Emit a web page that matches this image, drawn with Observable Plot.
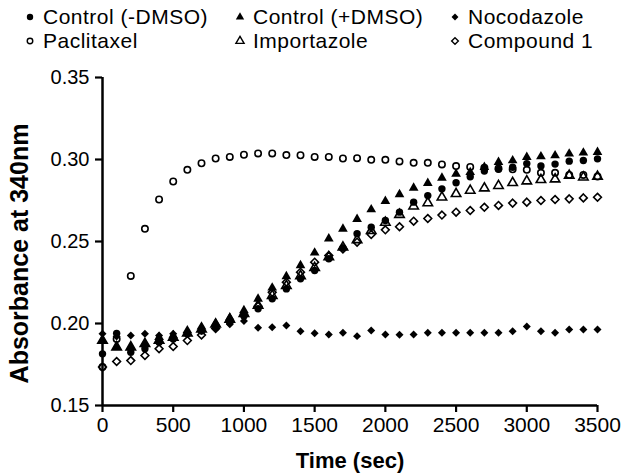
<!DOCTYPE html>
<html>
<head>
<meta charset="utf-8">
<script src="https://cdn.jsdelivr.net/npm/d3@7"></script>
<script src="https://cdn.jsdelivr.net/npm/@observablehq/plot@0.6"></script>
<style>
  html, body { margin: 0; padding: 0; background: #fff; }
  body { width: 627px; height: 474px; overflow: hidden; font-family: "Liberation Sans", Arial, sans-serif; }
  #legend { position: relative; width: 627px; height: 50px; }
  .item { position: absolute; font-size: 21px; letter-spacing: 0.5px; line-height: 20px; height: 20px; white-space: nowrap; color: #000; }
  .sym { position: absolute; }
  svg { display: block; }
</style>
</head>
<body>
<div id="legend"></div>
<div id="chart"></div>
<script>
const time = [0,100,200,300,400,500,600,700,800,900,1000,1100,1200,1300,1400,1500,1600,1700,1800,1900,2000,2100,2200,2300,2400,2500,2600,2700,2800,2900,3000,3100,3200,3300,3400,3500];

const controlMinusDMSO = [0.1815,0.194,0.1825,0.1846,0.1886,0.1905,0.1937,0.1955,0.1975,0.2008,0.2045,0.209,0.2151,0.2211,0.2273,0.2323,0.2395,0.246,0.2547,0.2587,0.2628,0.2679,0.274,0.278,0.2821,0.2858,0.2895,0.293,0.294,0.2953,0.2975,0.296,0.2972,0.299,0.2994,0.3004];
const controlPlusDMSO = [0.1896,0.1856,0.1856,0.1876,0.1917,0.1927,0.1957,0.198,0.2,0.2035,0.208,0.215,0.2218,0.2287,0.2354,0.2431,0.2517,0.2577,0.2636,0.2695,0.2746,0.2787,0.2827,0.2856,0.2888,0.2912,0.2922,0.2953,0.2984,0.2994,0.3014,0.3018,0.3024,0.3035,0.3041,0.3045];
const nocodazole = [0.1937,0.192,0.1927,0.1937,0.1927,0.1937,0.1947,0.1955,0.197,0.1995,0.2015,0.1974,0.1977,0.1988,0.1953,0.1941,0.1933,0.1943,0.1923,0.1957,0.1933,0.1931,0.1933,0.1943,0.1943,0.1943,0.1943,0.1943,0.1943,0.1953,0.1982,0.1953,0.1943,0.1963,0.1963,0.1963];
const paclitaxel = [0.1734,0.1905,0.229,0.2577,0.2756,0.2866,0.2937,0.2977,0.3006,0.3016,0.3029,0.3037,0.3037,0.3027,0.3026,0.3016,0.3016,0.3006,0.3008,0.2998,0.2998,0.2988,0.298,0.298,0.297,0.296,0.2955,0.295,0.2945,0.294,0.2937,0.2919,0.2919,0.2906,0.2906,0.2896];
const importazole = [0.1896,0.1856,0.1856,0.1876,0.1896,0.1915,0.194,0.1965,0.1995,0.2025,0.206,0.211,0.217,0.223,0.229,0.234,0.2405,0.2465,0.251,0.2565,0.2616,0.2664,0.2715,0.2735,0.277,0.2791,0.2811,0.2825,0.284,0.2858,0.2868,0.2876,0.288,0.2902,0.2892,0.2896];
const compound1 = [0.1734,0.1768,0.1774,0.1805,0.1846,0.186,0.1896,0.193,0.197,0.201,0.205,0.2105,0.219,0.2252,0.2313,0.2374,0.2415,0.2455,0.2496,0.2543,0.2571,0.259,0.2624,0.264,0.2661,0.2679,0.2689,0.2709,0.272,0.2734,0.274,0.275,0.2756,0.276,0.2766,0.277];

const seriesNames = ["Control (-DMSO)", "Control (+DMSO)", "Nocodazole", "Paclitaxel", "Importazole", "Compound 1"];
const xTicks = [0,500,1000,1500,2000,2500,3000,3500];
const yTicks = [0.15,0.20,0.25,0.30,0.35];

const series = [
  {name: seriesNames[0], values: controlMinusDMSO, symbol: "circle", filled: true, r: 3.7},
  {name: seriesNames[1], values: controlPlusDMSO, symbol: "triangle", filled: true, r: 3.6},
  {name: seriesNames[2], values: nocodazole, symbol: "diamond2", filled: true, r: 3.6},
  {name: seriesNames[3], values: paclitaxel, symbol: "circle", filled: false, r: 3.2},
  {name: seriesNames[4], values: importazole, symbol: "triangle", filled: false, r: 3.5},
  {name: seriesNames[5], values: compound1, symbol: "diamond2", filled: false, r: 3.5}
];

// Legend (HTML above the SVG)
const legendPos = [
  {x: 30, tx: 43, y: 17}, {x: 240, tx: 253, y: 17}, {x: 455, tx: 468, y: 17},
  {x: 30, tx: 43, y: 41}, {x: 240, tx: 253, y: 41}, {x: 455, tx: 468, y: 41}
];
const d3sym = {circle: d3.symbolCircle, triangle: d3.symbolTriangle, diamond2: d3.symbolDiamond2};
const legend = document.getElementById("legend");
series.forEach((s, i) => {
  const p = legendPos[i];
  const ns = "http://www.w3.org/2000/svg";
  const sv = document.createElementNS(ns, "svg");
  sv.setAttribute("width", 14); sv.setAttribute("height", 14);
  sv.setAttribute("class", "sym");
  sv.style.left = (p.x - 7) + "px"; sv.style.top = (p.y - 7) + "px";
  const path = document.createElementNS(ns, "path");
  path.setAttribute("d", d3.symbol(d3sym[s.symbol], Math.PI * s.r * s.r * 0.75)());
  path.setAttribute("transform", "translate(7,7)");
  if (s.filled) { path.setAttribute("fill", "#000"); }
  else { path.setAttribute("fill", "none"); path.setAttribute("stroke", "#000"); path.setAttribute("stroke-width", 1.4); }
  sv.appendChild(path);
  legend.appendChild(sv);
  const t = document.createElement("div");
  t.className = "item";
  t.textContent = s.name;
  t.style.left = p.tx + "px";
  t.style.top = (p.y - 10) + "px";
  legend.appendChild(t);
});

const marks = [];
series.forEach(s => {
  const rows = time.map((t, i) => ({time: t, value: s.values[i], series: s.name}));
  marks.push(Plot.dot(rows, {
    x: "time", y: "value", symbol: s.symbol, r: s.r,
    fill: s.filled ? "black" : "none",
    stroke: s.filled ? "none" : "black",
    strokeWidth: s.filled ? 0 : 1.6
  }));
});

const chart = Plot.plot({
  width: 627,
  height: 424,
  marginLeft: 102,
  marginRight: 30,
  marginTop: 27,
  marginBottom: 69,
  style: {fontFamily: "'Liberation Sans', Arial, sans-serif", background: "white", color: "black", overflow: "visible"},
  x: {domain: [0, 3500]},
  y: {domain: [0.15, 0.35]},
  marks: [
    Plot.axisX({ticks: xTicks, tickSize: 7, strokeWidth: 2.2, tickPadding: 5, fontSize: 21, label: null, tickFormat: d3.format("d")}),
    Plot.axisY({ticks: yTicks, tickSize: 7, strokeWidth: 2.2, tickPadding: 6, fontSize: 20, label: null, tickFormat: d3.format(".2f")}),
    Plot.ruleX([0], {y1: 0.15, y2: 0.35, strokeWidth: 2.5}),
    Plot.ruleY([0.15], {x1: 0, x2: 3500, strokeWidth: 2.5}),
    Plot.text(["Time (sec)"], {frameAnchor: "bottom", dy: 62, fontSize: 22, fontWeight: "bold"}),
    Plot.text(["Absorbance at 340nm"], {frameAnchor: "left", textAnchor: "middle", dx: -83, dy: 12, rotate: -90, fontSize: 25, fontWeight: "bold"}),
    ...marks
  ]
});
document.getElementById("chart").appendChild(chart);
</script>
</body>
</html>
